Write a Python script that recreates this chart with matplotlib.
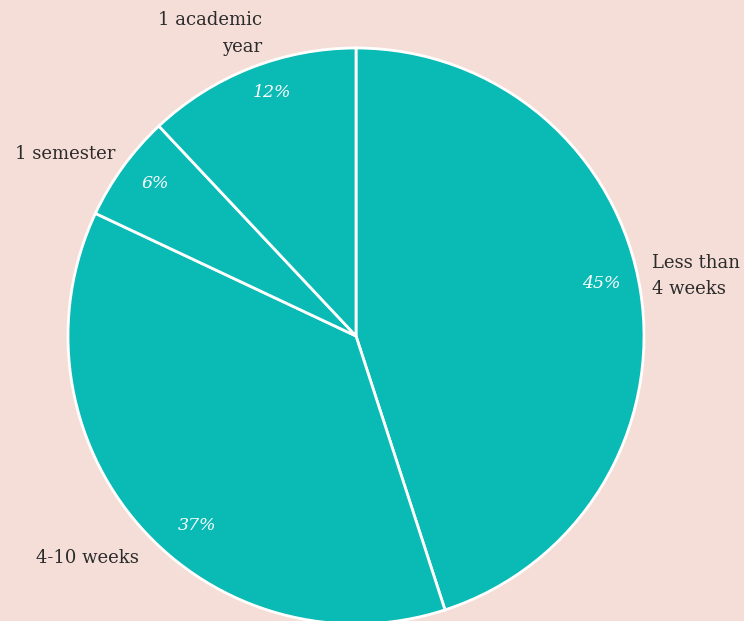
import matplotlib
matplotlib.use('Agg')
import matplotlib.pyplot as plt
import numpy as np

# duration shares, clockwise from 12 o'clock
durations = ['Less than\n4 weeks', '4-10 weeks', '1 semester', '1 academic\nyear']
shares = [45, 37, 6, 12]

bg_color = '#f6ded8'
slice_color = '#0abab5'
text_color = '#2b2b2b'

# (radius, angle in degrees, horizontal alignment) for each outer label
label_spots = [(1.05, 11.5, 'left'), (1.21, -140.5, 'center'), (1.19, 148, 'center'), (1.10, 107.2, 'right')]
# (radius, angle) for each percentage inside the slices
pct_spots = [(0.87, 12), (0.86, -130), (0.875, 142.7), (0.895, 109)]

fig = plt.figure(figsize=(7.44, 6.21), dpi=100, facecolor=bg_color)
ax = fig.add_axes([0, 0, 1, 1])
ax.set_facecolor(bg_color)

wedges, _ = ax.pie(shares, startangle=90, counterclock=False, radius=1.0,
                   colors=[slice_color] * len(shares),
                   wedgeprops=dict(edgecolor='white', linewidth=2.0))

for name, (r, ang, ha) in zip(durations, label_spots):
    x = r * np.cos(np.radians(ang))
    y = r * np.sin(np.radians(ang))
    ax.text(x, y, name, ha=ha, va='center', color=text_color, fontsize=13,
            family='DejaVu Serif', linespacing=1.6)

for val, (r, ang) in zip(shares, pct_spots):
    x = r * np.cos(np.radians(ang))
    y = r * np.sin(np.radians(ang))
    ax.text(x, y, f'{val}%', ha='center', va='center', color='white', fontsize=12.5,
            family='DejaVu Serif', style='italic')

# centre of the pie sits at (356, 336) px with a 288 px radius
ax.set_xlim(-356 / 288, (744 - 356) / 288)
ax.set_ylim(-(621 - 336) / 288, 336 / 288)
ax.set_aspect('auto')
ax.axis('off')

fig.savefig('out.png', dpi=100, facecolor=bg_color)
